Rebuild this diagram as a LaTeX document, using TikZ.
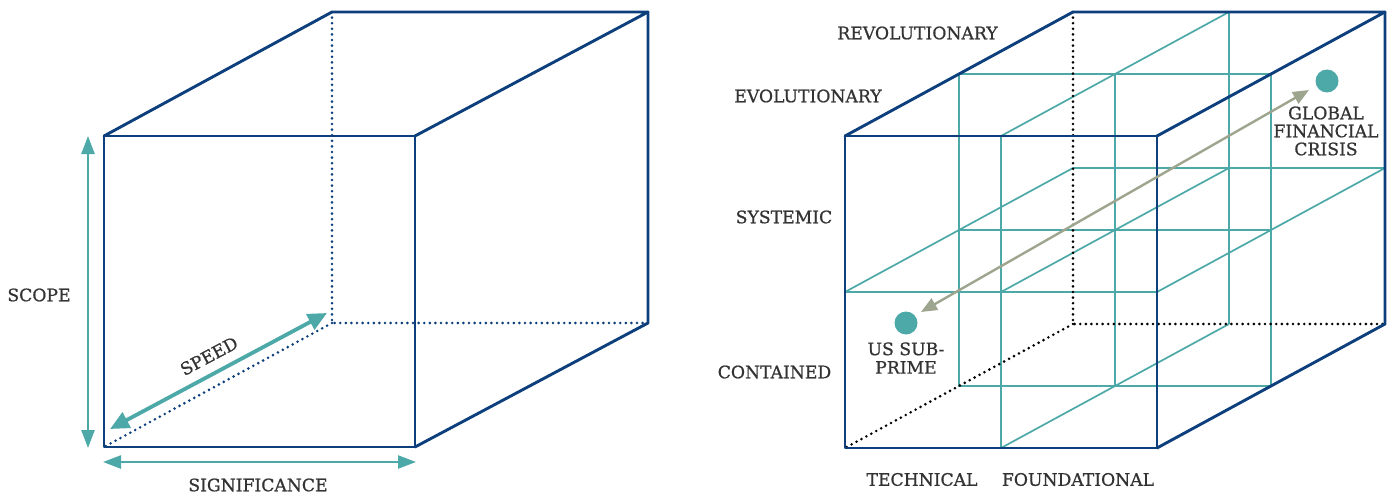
\documentclass[tikz,border=0pt]{standalone}
\usepackage{fontspec}
\setmainfont{DejaVu Serif}[FakeBold=0.8]
\usetikzlibrary{arrows.meta,calc}
\definecolor{navy}{HTML}{0D3F7C}
\definecolor{tealc}{HTML}{4DA8A8}
\definecolor{grayg}{HTML}{9EA58E}
\definecolor{txt}{HTML}{333333}
\begin{document}
\begin{tikzpicture}[x=1pt,y=-1pt,
  edge/.style={draw=navy,line width=2.9pt,line join=round,line cap=round},
  hidn/.style={draw=navy,line width=2.9pt,line cap=round,dash pattern=on 0pt off 5.6pt},
  hidk/.style={draw=black,line width=2.9pt,line cap=round,dash pattern=on 0pt off 5.6pt},
  gridl/.style={draw=tealc,line width=1.7pt},
  axarrow/.style={draw=tealc,line width=2.4pt,{Triangle[length=18pt,width=13pt]}-{Triangle[length=18pt,width=13pt]}},
  spdarrow/.style={draw=tealc,line width=3.8pt,{Triangle[length=19pt,width=17pt]}-{Triangle[length=19pt,width=17pt]}},
  grarrow/.style={draw=grayg,line width=2.4pt,{Triangle[length=16pt,width=13pt]}-{Triangle[length=16pt,width=13pt]}},
  lbl/.style={text=txt,font=\fontsize{17.2}{18}\selectfont,inner sep=0pt},
  dot/.style={circle,fill=tealc,minimum size=23pt,inner sep=0pt}]
\useasboundingbox (0,0) rectangle (1392,495);

% ---------- left cube ----------
\coordinate (LFtl) at (104,136); \coordinate (LFtr) at (415,136);
\coordinate (LFbr) at (415,447); \coordinate (LFbl) at (104,447);
\coordinate (LBtl) at (332,12);  \coordinate (LBtr) at (648,12);
\coordinate (LBbr) at (648,323); \coordinate (LBbl) at (332,323);

\draw[hidn] (LBtl) -- (LBbl) -- (LBbr);
\draw[hidn] (LBbl) -- (LFbl);
\draw[edge] (LFtl) -- (LFtr) -- (LFbr) -- (LFbl) -- cycle;
\draw[edge] (LFtl) -- (LBtl) -- (LBtr) -- (LFtr);
\draw[edge] (LBtr) -- (LBbr) -- (LFbr);

\coordinate (sc1) at (88,136); \coordinate (sc2) at (88,448);
\draw[axarrow] (sc1) -- (sc2);
\coordinate (sg1) at (103,462); \coordinate (sg2) at (416,462);
\draw[axarrow] (sg1) -- (sg2);
\coordinate (sp1) at (110,429); \coordinate (sp2) at (327,313);
\draw[spdarrow] (sp1) -- (sp2);

\node[lbl] (scope) at (39,295) {SCOPE};
\node[lbl] (signif) at (258,485) {SIGNIFICANCE};
\node[lbl,rotate=28] (speed) at (209,356) {SPEED};

% ---------- right cube ----------
\coordinate (RFtl) at (845,136); \coordinate (RFtr) at (1157,136);
\coordinate (RFbr) at (1157,448); \coordinate (RFbl) at (845,448);
\coordinate (RBtl) at (1073,12);  \coordinate (RBtr) at (1385,12);
\coordinate (RBbr) at (1385,324); \coordinate (RBbl) at (1073,324);

% grid: front face
\coordinate (Fmt) at ($(RFtl)!0.5!(RFtr)$); \coordinate (Fmb) at ($(RFbl)!0.5!(RFbr)$);
\coordinate (Fml) at ($(RFtl)!0.5!(RFbl)$); \coordinate (Fmr) at ($(RFtr)!0.5!(RFbr)$);
\coordinate (Fc) at ($(Fml)!0.5!(Fmr)$);
% back face
\coordinate (Bmt) at ($(RBtl)!0.5!(RBtr)$); \coordinate (Bmb) at ($(RBbl)!0.5!(RBbr)$);
\coordinate (Bml) at ($(RBtl)!0.5!(RBbl)$); \coordinate (Bmr) at ($(RBtr)!0.5!(RBbr)$);
\coordinate (Bc) at ($(Bml)!0.5!(Bmr)$);
% middle slice
\coordinate (Mtl) at ($(RFtl)!0.5!(RBtl)$); \coordinate (Mtr) at ($(RFtr)!0.5!(RBtr)$);
\coordinate (Mbr) at ($(RFbr)!0.5!(RBbr)$); \coordinate (Mbl) at ($(RFbl)!0.5!(RBbl)$);
\coordinate (Mmt) at ($(Fmt)!0.5!(Bmt)$); \coordinate (Mmb) at ($(Fmb)!0.5!(Bmb)$);
\coordinate (Mml) at ($(Fml)!0.5!(Bml)$); \coordinate (Mmr) at ($(Fmr)!0.5!(Bmr)$);

\draw[gridl] (Fmt) -- (Fmb) (Fml) -- (Fmr);
\draw[gridl] (Bmt) -- (Bmb) (Bml) -- (Bmr);
\draw[gridl] (Mtl) -- (Mtr) -- (Mbr) -- (Mbl) -- cycle;
\draw[gridl] (Mmt) -- (Mmb) (Mml) -- (Mmr);
\draw[gridl] (Fmt) -- (Bmt) (Fml) -- (Bml) (Fc) -- (Bc) (Fmr) -- (Bmr) (Fmb) -- (Bmb);

\draw[hidk] (RBtl) -- (RBbl) -- (RBbr);
\draw[hidk] (RBbl) -- (RFbl);
\draw[edge] (RFtl) -- (RFtr) -- (RFbr) -- (RFbl) -- cycle;
\draw[edge] (RFtl) -- (RBtl) -- (RBtr) -- (RFtr);
\draw[edge] (RBtr) -- (RBbr) -- (RFbr);

\node[dot] (usdot) at (906,323) {};
\node[dot] (gfdot) at (1327,81) {};
\coordinate (ga1) at (1309,90); \coordinate (ga2) at (921,312);
\draw[grarrow] (ga2) -- (ga1);

\node[lbl] (revol) at (917.5,33) {REVOLUTIONARY};
\node[lbl] (evol) at (808,96) {EVOLUTIONARY};
\node[lbl] (syst) at (784,217) {SYSTEMIC};
\node[lbl] (cont) at (774.5,372) {CONTAINED};
\node[lbl] (tech) at (922,479.5) {TECHNICAL};
\node[lbl] (found) at (1078,479.5) {FOUNDATIONAL};
\node[lbl,align=center] (uslbl) at (906,358) {US SUB-\\[0.5pt]PRIME};
\node[lbl,align=center] (gflbl) at (1326,131) {GLOBAL\\FINANCIAL\\CRISIS};
\end{tikzpicture}
\end{document}
